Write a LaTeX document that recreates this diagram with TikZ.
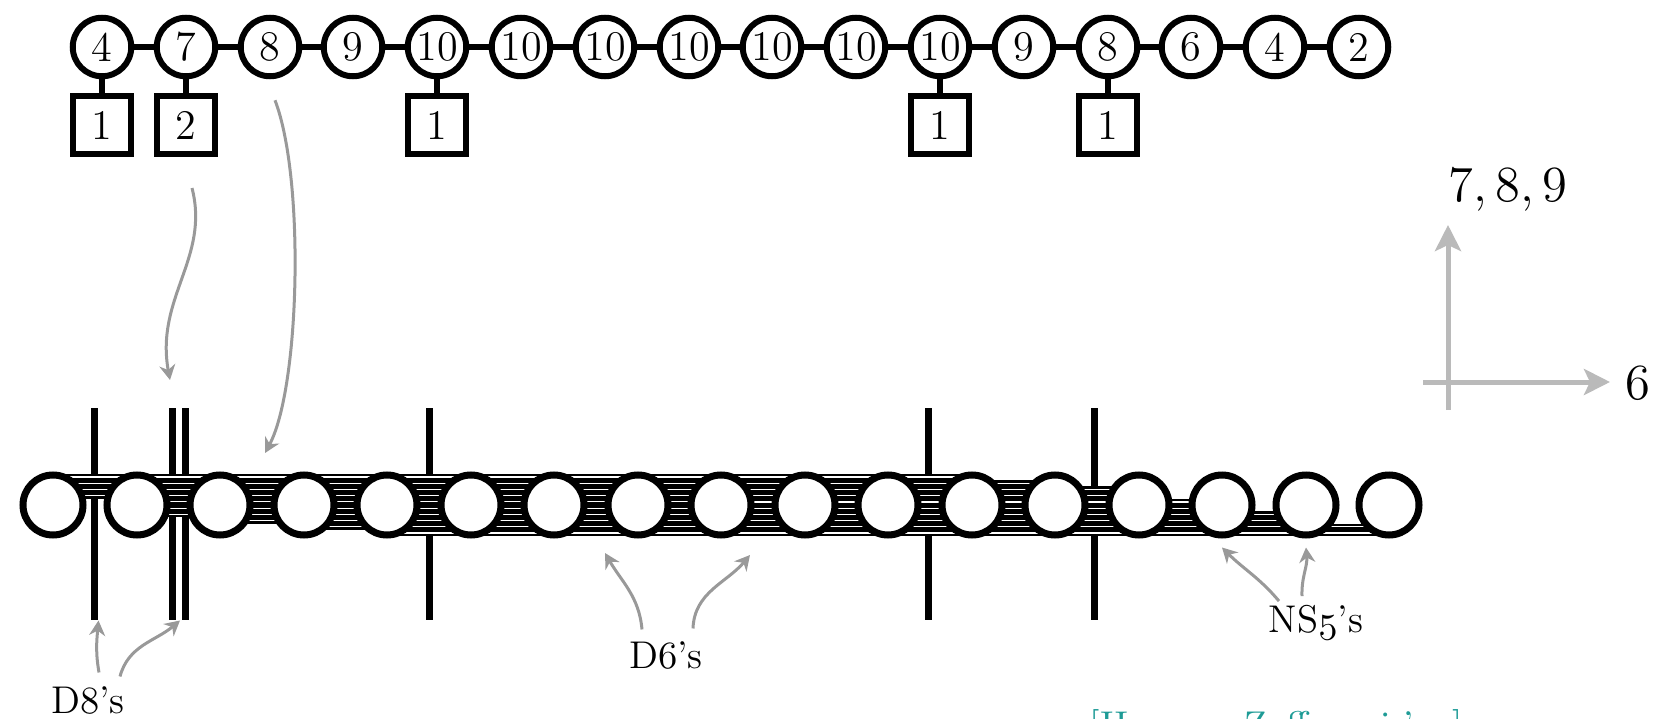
\documentclass[tikz,border=0pt]{standalone}
\usepackage{xcolor}
\usepackage{tikz}
\usetikzlibrary{arrows.meta,positioning,calc,backgrounds}
\definecolor{citeteal}{RGB}{30,155,150}
\newcommand{\osn}[1]{{\usefont{OML}{cmm}{m}{it}#1}}

\begin{document}
\begin{tikzpicture}[
  gauge/.style={circle, draw, line width=0.06cm, minimum size=0.585cm,
                inner sep=0pt, font=\fontsize{12}{14}\selectfont},
  flavour/.style={rectangle, draw, line width=0.06cm, minimum size=0.58cm,
                  inner sep=0pt, font=\fontsize{12}{14}\selectfont},
  link/.style={line width=0.06cm},
  ns/.style={circle, draw, line width=0.07cm, minimum size=0.6cm,
             inner sep=0pt, fill=white},
  dsix/.style={draw=black, double=white, line width=0.025cm, double distance=0.012cm},
  deight/.style={line width=0.07cm},
  note/.style={->, >={Stealth[length=1.5mm,width=1.6mm]}, black!40, line width=0.03cm},
  axisarr/.style={->, >={Stealth[length=2.6mm,width=2.6mm,inset=0.6mm]}, black!27, line width=0.05cm},
  lbl/.style={font=\fontsize{11}{13}\selectfont, inner sep=0pt, anchor=base},
]
\useasboundingbox (0,0) rectangle (16.71,7.18);

% quiver
\node[gauge] (g1)  at (1.02,6.71)  {4};
\node[gauge] (g2)  at (1.86,6.71)  {7};
\node[gauge] (g3)  at (2.70,6.71)  {8};
\node[gauge] (g4)  at (3.53,6.71)  {9};
\node[gauge] (g5)  at (4.37,6.71)  {10};
\node[gauge] (g6)  at (5.21,6.71)  {10};
\node[gauge] (g7)  at (6.05,6.71)  {10};
\node[gauge] (g8)  at (6.89,6.71)  {10};
\node[gauge] (g9)  at (7.72,6.71)  {10};
\node[gauge] (g10) at (8.56,6.71)  {10};
\node[gauge] (g11) at (9.40,6.71)  {10};
\node[gauge] (g12) at (10.24,6.71) {9};
\node[gauge] (g13) at (11.08,6.71) {8};
\node[gauge] (g14) at (11.91,6.71) {6};
\node[gauge] (g15) at (12.75,6.71) {4};
\node[gauge] (g16) at (13.59,6.71) {2};

\node[flavour] (f1)  at (1.02,5.93)  {1};
\node[flavour] (f2)  at (1.86,5.93)  {2};
\node[flavour] (f5)  at (4.37,5.93)  {1};
\node[flavour] (f11) at (9.40,5.93)  {1};
\node[flavour] (f13) at (11.08,5.93) {1};

\draw[link] (g1)--(g2);   \draw[link] (g2)--(g3);   \draw[link] (g3)--(g4);
\draw[link] (g4)--(g5);   \draw[link] (g5)--(g6);   \draw[link] (g6)--(g7);
\draw[link] (g7)--(g8);   \draw[link] (g8)--(g9);   \draw[link] (g9)--(g10);
\draw[link] (g10)--(g11); \draw[link] (g11)--(g12); \draw[link] (g12)--(g13);
\draw[link] (g13)--(g14); \draw[link] (g14)--(g15); \draw[link] (g15)--(g16);

\draw[link] (g1)--(f1);   \draw[link] (g2)--(f2);   \draw[link] (g5)--(f5);
\draw[link] (g11)--(f11); \draw[link] (g13)--(f13);

% NS5-branes
\node[ns] (ns1)  at (0.53,2.13)  {};
\node[ns] (ns2)  at (1.37,2.13)  {};
\node[ns] (ns3)  at (2.20,2.13)  {};
\node[ns] (ns4)  at (3.04,2.13)  {};
\node[ns] (ns5)  at (3.87,2.13)  {};
\node[ns] (ns6)  at (4.71,2.13)  {};
\node[ns] (ns7)  at (5.54,2.13)  {};
\node[ns] (ns8)  at (6.38,2.13)  {};
\node[ns] (ns9)  at (7.21,2.13)  {};
\node[ns] (ns10) at (8.05,2.13)  {};
\node[ns] (ns11) at (8.88,2.13)  {};
\node[ns] (ns12) at (9.72,2.13)  {};
\node[ns] (ns13) at (10.55,2.13) {};
\node[ns] (ns14) at (11.39,2.13) {};
\node[ns] (ns15) at (12.22,2.13) {};
\node[ns] (ns16) at (13.06,2.13) {};
\node[ns] (ns17) at (13.89,2.13) {};

\begin{pgfonlayer}{background}
% D8-branes
\draw[deight] (0.94,3.10) -- (0.94,0.98);
\draw[deight] (1.72,3.10) -- (1.72,0.98);
\draw[deight] (1.85,3.10) -- (1.85,0.98);
\draw[deight] (4.29,3.10) -- (4.29,0.98);
\draw[deight] (9.28,3.10) -- (9.28,0.98);
\draw[deight] (10.94,3.10) -- (10.94,0.98);
% D6-branes: stacked from the top on the left, from the bottom on the right
\foreach \n [count=\i] in {4,7,8,9,10,10,10,10,10,10,10,9,8,6,4,2} {
  \pgfmathtruncatemacro{\j}{\i+1}
  \foreach \k in {1,...,\n} {
    \pgfmathsetmacro{\dy}{\i<9 ? 0.28-(\k-1)*0.0622 : -0.28+(\k-1)*0.0622}
    \draw[dsix] ([yshift=\dy cm]ns\i.center) -- ([yshift=\dy cm]ns\j.center);
  }
}
\end{pgfonlayer}

% from the quiver down to the branes
\coordinate (tA) at (1.70,3.38);
\coordinate (tB) at (2.65,2.65);
\draw[note] ([xshift=0.6mm,yshift=-3.1mm]f2.south) .. controls (2.10,4.60) and (1.55,4.20) .. (tA);
\draw[note] ([xshift=0.5mm,yshift=-2.1mm]g3.south) .. controls (3.05,5.40) and (3.00,3.30) .. (tB);

% labels
\node[lbl] (d8lab) at (0.88,0.05)  {D\osn{8}'s};
\node[lbl] (d6lab) at (6.66,0.50)  {D\osn{6}'s};
\node[lbl] (nslab) at (13.16,0.86) {NS\osn{5}'s};

\coordinate (d8a) at (0.985,0.975);
\coordinate (d8b) at (1.80,0.975);
\coordinate (d6a) at (6.05,1.65);
\coordinate (d6b) at (7.50,1.63);

\draw[note] ([xshift=1.1mm,yshift=1.3mm]d8lab.north) to[out=100,in=-95] (d8a);
\draw[note] ([xshift=3.2mm,yshift=0.9mm]d8lab.north) to[out=75,in=-140] (d8b);
\draw[note] ([xshift=-2.4mm,yshift=1.1mm]d6lab.north) to[out=95,in=-60] (d6a);
\draw[note] ([xshift=2.7mm,yshift=1.2mm]d6lab.north) to[out=88,in=-130] (d6b);
\draw[note] ([xshift=-3.7mm,yshift=0.3mm]nslab.north) to[out=130,in=-45] ([yshift=-0.9mm]ns15.south);
\draw[note] ([xshift=-1.4mm,yshift=0.8mm]nslab.north) to[out=92,in=-85] ([yshift=-0.9mm]ns16.south);

% directions
\coordinate (vb) at (14.48,3.08);
\coordinate (vt) at (14.48,4.93);
\coordinate (hl) at (14.23,3.36);
\coordinate (hr) at (16.10,3.36);
\draw[axisarr] (vb) -- (vt);
\draw[axisarr] (hl) -- (hr);
\node[font=\fontsize{13.5}{15}\selectfont] (lab789) at (15.08,5.28) {$7,8,9$};
\node[font=\fontsize{13.5}{15}\selectfont] (lab6) at (16.38,3.35) {$6$};

\node[anchor=base west, inner sep=0pt, text=citeteal, font=\fontsize{10.6}{12}\selectfont]
  (cite) at (10.89,-0.19) {[Hanany, Zaffaroni '\osn{97}]};
\end{tikzpicture}
\end{document}
